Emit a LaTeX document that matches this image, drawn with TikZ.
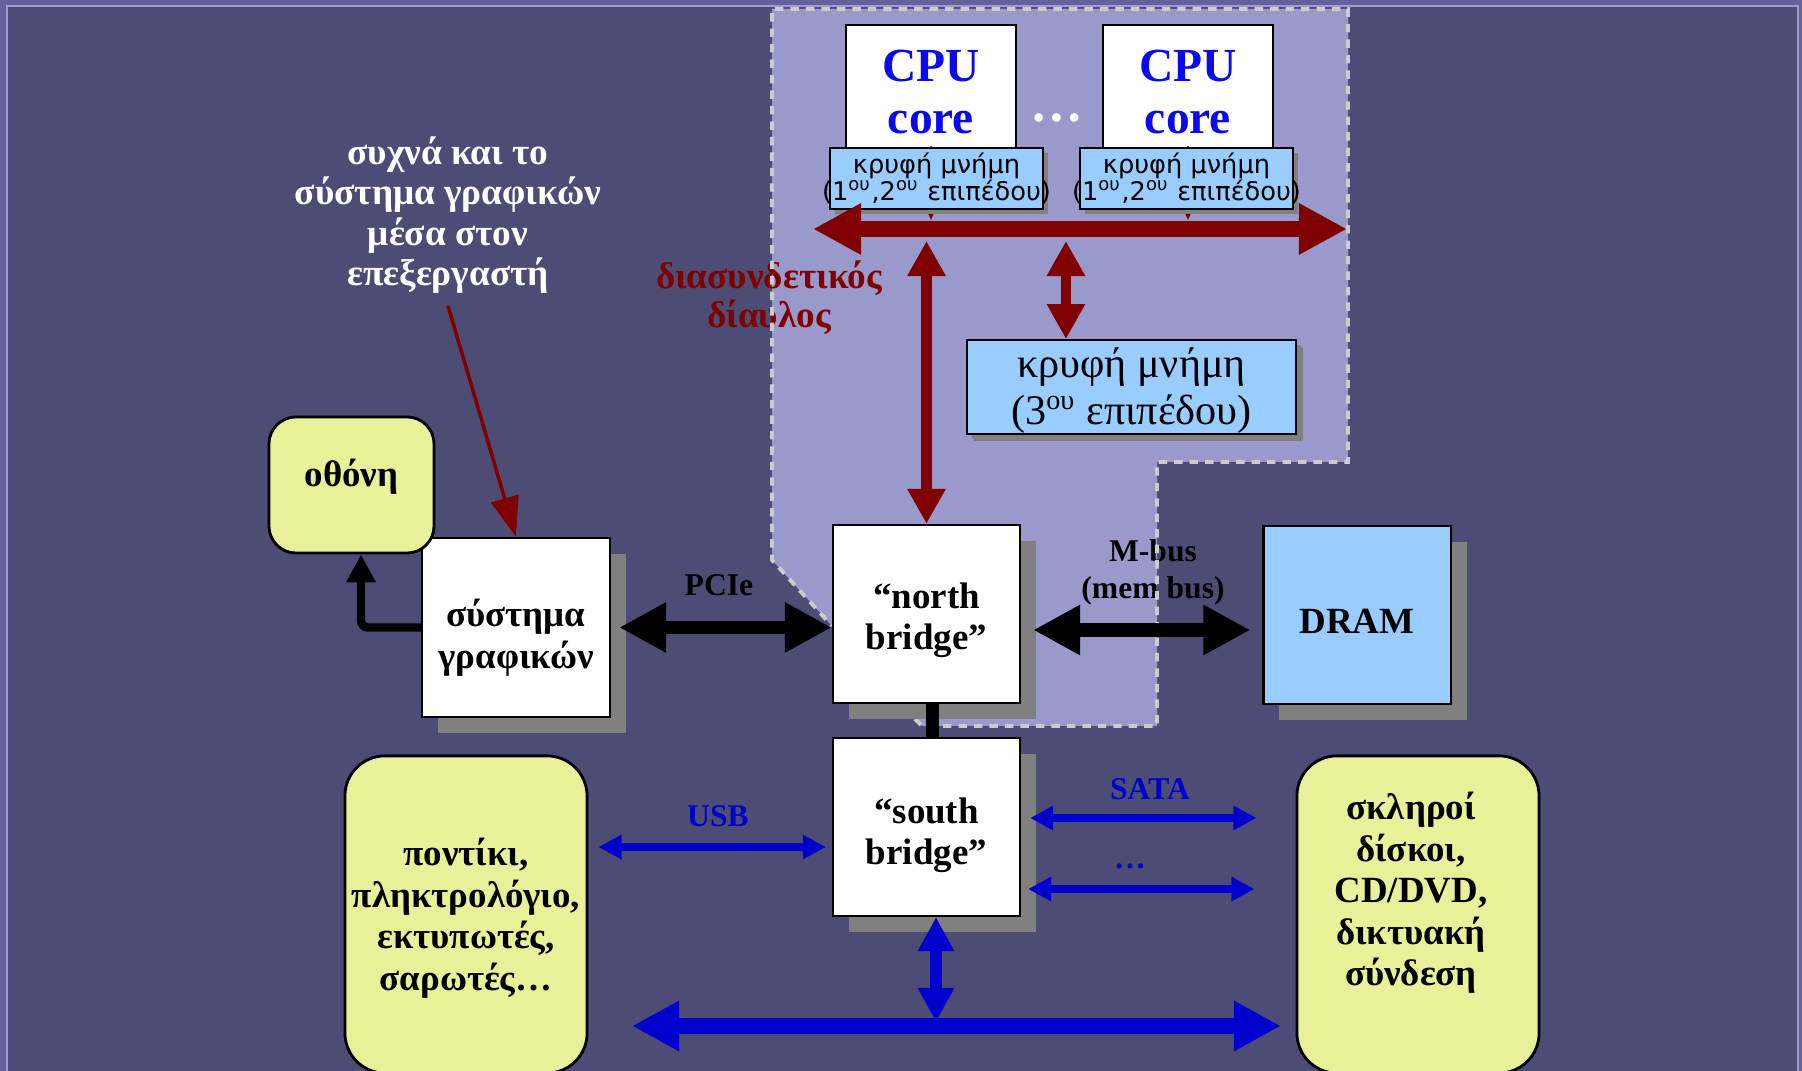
\documentclass[tikz,border=0pt]{standalone}
\usepackage{fontspec}
\setmainfont{Liberation Serif}
\newfontfamily\dejavu{DejaVu Sans}
\usetikzlibrary{arrows.meta,shadows,positioning}
\definecolor{slidebg}{HTML}{4D4C75}
\definecolor{slideband}{HTML}{64629C}
\definecolor{slideline}{HTML}{9E9CD0}
\definecolor{chipfill}{HTML}{9999CC}
\definecolor{chipdash}{HTML}{CCCCCC}
\definecolor{cachefill}{HTML}{99CCFF}
\definecolor{devfill}{HTML}{E8F099}
\definecolor{busred}{HTML}{800000}
\definecolor{busblue}{HTML}{0000CC}
\definecolor{cpublue}{HTML}{0A0AEB}
\definecolor{shadowgray}{HTML}{808080}
\newcommand{\topstrut}[1]{\rule{0pt}{#1}}
\newcommand{\botstrut}[1]{\rule[-#1]{0pt}{0pt}}
\tikzset{
  chipbox/.style={draw=black, line width=0.6pt, fill=white, inner sep=0pt, align=center,
    minimum width=1.87cm, minimum height=1.78cm, font=\bfseries\fontsize{10.5}{11.7}\selectfont,
    drop shadow={shadow xshift=0.16cm, shadow yshift=-0.16cm, fill=shadowgray, opacity=1}},
  cpubox/.style={draw=black, line width=0.6pt, fill=white, inner sep=0pt, align=center,
    minimum width=1.70cm, minimum height=1.25cm, text=cpublue,
    font=\bfseries\fontsize{13.5}{14.8}\selectfont},
  cachebox/.style={draw=black, line width=0.6pt, fill=cachefill, inner sep=0pt, align=center,
    drop shadow={shadow xshift=0.05cm, shadow yshift=-0.05cm, fill=shadowgray, opacity=1}},
  devbox/.style={draw=black, line width=0.8pt, fill=devfill, rounded corners=0.4cm,
    inner sep=0pt, align=center, font=\bfseries\fontsize{10.5}{11.8}\selectfont},
  tag/.style={align=center, font=\bfseries\fontsize{9}{10.5}\selectfont},
  redbus/.style={busred, line width=4.5pt, <->, >={Triangle[length=0.48cm,width=0.48cm]}},
  redlink/.style={busred, line width=3.1pt, <->, >={Triangle[length=0.35cm,width=0.36cm]}},
  tinyred/.style={busred, line width=0.4pt, <->, >={Triangle[length=0.06cm,width=0.05cm]}},
  fatarrow/.style={black, line width=3.7pt, <->, >={Triangle[length=0.47cm,width=0.47cm]}},
  thinblue/.style={busblue, line width=2.3pt, <->, >={Triangle[length=0.23cm,width=0.23cm]}},
  midblue/.style={busblue, line width=3.3pt, <->, >={Triangle[length=0.34cm,width=0.34cm]}},
  bluebus/.style={busblue, line width=4.3pt, <->, >={Triangle[length=0.47cm,width=0.47cm]}},
  elbowarrow/.style={black, line width=2.4pt, ->, >={Triangle[length=0.28cm,width=0.28cm]}, rounded corners=2pt},
  hintarrow/.style={busred, line width=1pt, ->, >={Triangle[length=0.40cm,width=0.28cm]}}
}
\begin{document}
\begin{tikzpicture}[x=0.01cm, y=-0.01cm]
\useasboundingbox (0,0) rectangle (1802,1071);
\fill[slideband] (0,0) rectangle (1802,1071);
\fill[slidebg] (7,6) rectangle (1798,1080);
\draw[slideline, line width=0.6pt] (7,1080) -- (7,6) -- (1798,6) -- (1798,1080);

\fill[chipfill] (772,9) -- (1348,9) -- (1348,462) -- (1157,462) -- (1157,726) -- (922,726)
  -- (833,640) -- (833,627) -- (772,560) -- cycle;
\node[align=center, text=busred, font=\bfseries\fontsize{10.6}{11.1}\selectfont] (BusLabel) at (769,298) {διασυνδετικός\\δίαυλος};
\node[tag] (MbusLabel) at (1153,572) {M-bus\\(mem bus)};
\draw[chipdash, line width=1.1pt, dash pattern=on 2.4pt off 2pt]
  (915,719) -- (922,726) -- (1157,726) -- (1157,462) -- (1348,462) -- (1348,9) -- (772,9)
  -- (772,560) -- (832,626);

\node[cpubox] (CpuCoreA) at (931,87.5) {\topstrut{11.5pt}CPU\\core};
\node[cpubox] (CpuCoreB) at (1188,87.5) {\topstrut{11.5pt}CPU\\core};
\node[text=white, font=\bfseries\fontsize{15}{15}\selectfont] (CpuDots) at (1057,118) {…};
\coordinate (BusL) at (813,229);
\coordinate (BusR) at (1347,229);
\coordinate (BusLow) at (813,241);
\draw[tinyred] ([yshift=0.06cm]CpuCoreA.south) -- (CpuCoreA.south |- 0,220);
\draw[tinyred] ([yshift=0.06cm]CpuCoreB.south) -- (CpuCoreB.south |- 0,220);
\node[cachebox, minimum height=0.61cm, font=\dejavu\fontsize{7.3}{7.9}\selectfont] (CacheA) at (936.5,178.5)
  {\makebox[2.13cm]{κρυφή μνήμη}\\\makebox[2.13cm]{(1\textsuperscript{ου},2\textsuperscript{ου} επιπέδου)}};
\node[cachebox, minimum height=0.61cm, font=\dejavu\fontsize{7.3}{7.9}\selectfont] (CacheB) at (1186.5,178.5)
  {\makebox[2.13cm]{κρυφή μνήμη}\\\makebox[2.13cm]{(1\textsuperscript{ου},2\textsuperscript{ου} επιπέδου)}};
\draw[redbus] (BusL) -- (BusR);
\node[cachebox, minimum width=3.29cm, minimum height=0.90cm, font=\fontsize{12}{13.6}\selectfont,
  drop shadow={shadow xshift=0.07cm, shadow yshift=-0.07cm, fill=shadowgray, opacity=1}] (CacheL3) at (1131.5,387)
  {\topstrut{10.5pt}κρυφή μνήμη\\(3\textsuperscript{ου} επιπέδου)};
\coordinate (CacheLink) at ([xshift=-0.655cm]CacheL3.north);

\node[chipbox] (NorthBridge) at (926.5,614) {\topstrut{10.8pt}“north\\bridge”};
\node[chipbox] (SouthBridge) at (926.5,827) {\topstrut{11.8pt}“south\\bridge”};
\node[chipbox, fill=cachefill] (Dram) at (1357,615) {\topstrut{10.4pt}DRAM};
\node[chipbox, minimum width=1.88cm, minimum height=1.79cm] (Graphics) at (516,627.5) {\topstrut{13.6pt}σύστημα\\γραφικών};
\node[devbox, rounded corners=0.27cm, minimum width=1.65cm, minimum height=1.36cm] (Screen) at (351.5,485) {οθόνη\botstrut{6.9pt}};
\node[devbox, minimum width=2.42cm, minimum height=3.17cm] (Peripherals) at (466,914.5)
  {\topstrut{10pt}ποντίκι,\\πληκτρολόγιο,\\εκτυπωτές,\\σαρωτές…};
\node[devbox, minimum width=2.42cm, minimum height=3.17cm] (Disks) at (1418,914.5) {};
\node[align=center, font=\bfseries\fontsize{10.5}{11.8}\selectfont] (DisksText) at (1411,893)
  {σκληροί\\δίσκοι,\\CD/DVD,\\δικτυακή\\σύνδεση};

\node[align=center, text=white, font=\bfseries\fontsize{10.6}{11.5}\selectfont] (Hint) at (448,215)
  {συχνά και το\\σύστημα γραφικών\\μέσα στον\\επεξεργαστή};
\node[tag] (PcieLabel) at (719,585) {PCIe};
\node[tag, text=busblue] (UsbLabel) at (718,816) {USB};
\node[tag, text=busblue] (SataLabel) at (1150,789) {SATA};
\node[tag, text=busblue] (MoreLabel) at (1130,866) {…};

\draw[redlink] (BusLow -| NorthBridge.north) -- (NorthBridge.north);
\draw[redlink] (BusLow -| CacheLink) -- (CacheLink);
\draw[hintarrow] (Hint.south) -- (Graphics.north);
\draw[elbowarrow] (Graphics.west) -| ([xshift=0.095cm]Screen.south);
\draw[fatarrow, shorten <=0.08cm] (Graphics.east) -- (Graphics.east -| NorthBridge.west);
\draw[fatarrow, shorten <=0.12cm, shorten >=0.12cm] ([yshift=-0.16cm]NorthBridge.east) -- ([yshift=-0.16cm]NorthBridge.east -| Dram.west);
\draw[black, line width=3.7pt] ([xshift=0.055cm]NorthBridge.south) -- ([xshift=0.055cm]SouthBridge.north);
\coordinate (UsbEnd) at ([yshift=-0.2cm]SouthBridge.west);
\draw[thinblue, shorten <=0.1cm, shorten >=0.06cm] (Peripherals.east |- UsbEnd) -- (UsbEnd);
\coordinate (SataStart) at ([yshift=0.09cm]SouthBridge.east);
\coordinate (MoreStart) at ([yshift=-0.62cm]SouthBridge.east);
\draw[thinblue, shorten <=0.09cm, shorten >=0.39cm] (SataStart) -- (SataStart -| Disks.west);
\draw[thinblue, shorten <=0.07cm, shorten >=0.41cm] (MoreStart) -- (MoreStart -| Disks.west);
\coordinate (BlueL) at (632,1026);
\coordinate (BlueR) at (1281,1026);
\coordinate (SbDown) at ([xshift=0.095cm]SouthBridge.south);
\draw[midblue, shorten >=0.04cm] (SbDown) -- (SbDown |- BlueL);
\draw[bluebus] (BlueL) -- (BlueR);
\end{tikzpicture}
\end{document}
